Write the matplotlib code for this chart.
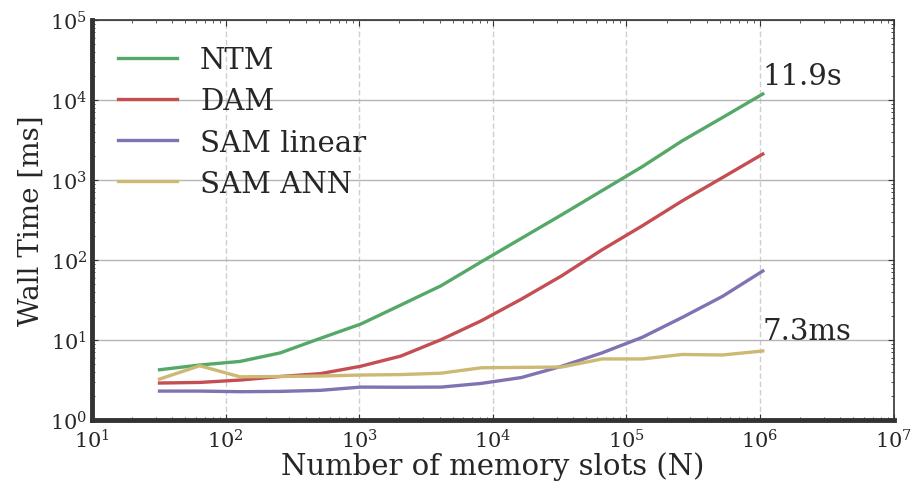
import numpy as np
import matplotlib
matplotlib.use("Agg")
import matplotlib.pyplot as plt

plt.rcParams['font.family'] = ['DejaVu Serif']
plt.rcParams['mathtext.fontset'] = 'dejavuserif'

# memory sizes: powers of two from 2^5 to 2^20
slots = [2 ** k for k in range(5, 21)]

ntm = [4.25, 4.87, 5.4, 6.9, 10.5, 15.8, 27.4, 47.7, 95, 187, 368, 735, 1466, 3100, 6050, 11900]
dam = [2.9, 2.95, 3.16, 3.5, 3.8, 4.7, 6.3, 10.1, 17.4, 32.5, 63.5, 134, 267, 550, 1075, 2113]
sam_linear = [2.3, 2.3, 2.26, 2.28, 2.35, 2.58, 2.57, 2.58, 2.87, 3.4, 4.7, 6.9, 10.8, 19.2, 35.2, 72.9]
sam_ann = [3.25, 4.77, 3.47, 3.5, 3.55, 3.65, 3.7, 3.85, 4.5, 4.55, 4.6, 5.8, 5.8, 6.6, 6.5, 7.3]

series = [
    ("NTM", ntm, "#55A868"),
    ("DAM", dam, "#C44E52"),
    ("SAM linear", sam_linear, "#8172B2"),
    ("SAM ANN", sam_ann, "#CCB974"),
]

fig = plt.figure(figsize=(9.13, 4.89), dpi=100)
ax = fig.add_axes([0.1008, 0.139, 0.878, 0.818])

for name, vals, col in series:
    ax.plot(slots, vals, color=col, lw=2.4, label=name)

ax.set_xscale("log")
ax.set_yscale("log")
ax.set_xlim(1e1, 1e7)
ax.set_ylim(1e0, 1e5)

ax.grid(True, which="major", axis="y", color="#b5b5b5", lw=1.0, ls="-")
ax.grid(True, which="major", axis="x", color="#cfcfcf", lw=1.0, ls=(0, (4, 2)))
ax.set_axisbelow(True)

for side in ["left", "bottom"]:
    ax.spines[side].set_linewidth(3.5)
    ax.spines[side].set_color("#333333")
for side in ["top", "right"]:
    ax.spines[side].set_linewidth(1.2)
    ax.spines[side].set_color("#333333")

ax.tick_params(which="both", direction="in", top=True, right=True, colors="#333333",
               labelcolor="#262626", labelsize=15)
ax.tick_params(which="major", length=4, width=0.8)
ax.tick_params(which="minor", length=2, width=0.6)
ax.tick_params(axis="x", pad=6)

ax.set_xlabel("Number of memory slots (N)", fontsize=21, color="#262626", labelpad=0)
ax.set_ylabel("Wall Time [ms]", fontsize=20, color="#262626", labelpad=4)

ax.text(slots[-1] * 1.0, ntm[-1] * 1.12, f"{ntm[-1] / 1000:.1f}s", fontsize=21,
        color="#262626", ha="left", va="bottom")
ax.text(slots[-1] * 1.0, sam_ann[-1] * 1.18, f"{sam_ann[-1]:.1f}ms", fontsize=21,
        color="#262626", ha="left", va="bottom")

leg = ax.legend(loc="upper left", frameon=False, fontsize=21, handlelength=2.0,
                handletextpad=0.8, labelspacing=0.45, borderaxespad=0.5)
for t in leg.get_texts():
    t.set_color("#262626")

fig.savefig("out.png", dpi=100)
